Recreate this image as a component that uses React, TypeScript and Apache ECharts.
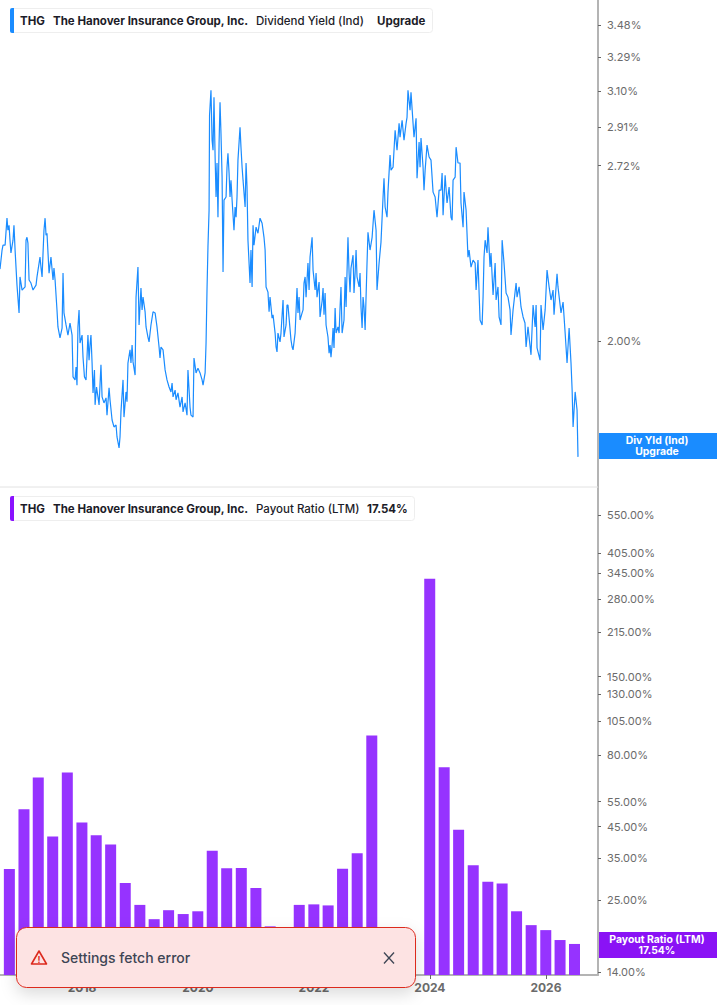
import { useEffect, useRef } from 'react';
import * as echarts from 'echarts';

// day offsets below are counted from this date
const startDate = Date.UTC(2016, 7, 2);
const dayMs = 86400000;
const axisMax = startDate + 3767 * dayMs;

const yearTicks = ['2018-01-01', '2020-01-01', '2022-01-01', '2024-01-01', '2026-01-01'];
const yieldTicks = [3.48, 3.29, 3.10, 2.91, 2.72, 2.00];
const payoutTicks = [550, 405, 345, 280, 215, 150, 130, 105, 80, 55, 45, 35, 25, 14];

// [days since startDate, dividend yield %]
const yield2016: [number, number][] = [
    [0, 2.269], [13, 2.346], [19, 2.366], [32, 2.366], [44, 2.481], [50, 2.429], [57, 2.45], [63, 2.387], [69, 2.334],
    [82, 2.387], [88, 2.45], [95, 2.346], [107, 2.206], [120, 2.101], [126, 2.238], [139, 2.187],
];
const yield2017: [number, number][] = [
    [158, 2.199], [164, 2.387], [170, 2.399], [176, 2.375], [183, 2.226], [195, 2.214], [208, 2.187], [227, 2.206], [233, 2.238],
    [252, 2.317], [258, 2.277], [265, 2.238], [277, 2.429], [284, 2.481], [290, 2.408], [296, 2.416], [309, 2.253], [321, 2.317],
    [334, 2.226], [340, 2.273], [347, 2.226], [359, 2.112], [365, 2.05], [378, 2.011], [391, 2.046], [397, 2.253], [403, 2.101],
    [416, 2.057], [428, 2.021], [441, 2.064], [454, 2.021], [460, 1.878], [473, 1.868], [479, 1.911], [485, 1.851], [491, 2.05],
    [498, 2.112], [504, 1.993],
];
const yield2018: [number, number][] = [
    [517, 2.021], [523, 1.944], [532, 1.878], [542, 1.868], [554, 2.021], [561, 1.934], [567, 1.986], [573, 2.021], [580, 1.924],
    [586, 1.826], [595, 1.901], [599, 1.788], [608, 1.845], [617, 1.813], [624, 1.788], [636, 1.918], [643, 1.813], [655, 1.794],
    [668, 1.81], [674, 1.756], [687, 1.842], [693, 1.804], [706, 1.741], [718, 1.72], [731, 1.726], [737, 1.69], [750, 1.658],
    [756, 1.69], [762, 1.766], [775, 1.868], [781, 1.75], [794, 1.829], [800, 1.798], [806, 1.924], [819, 1.969], [825, 1.924],
    [832, 1.986], [838, 1.928], [851, 1.884], [857, 2.16], [869, 2.277],
];
const yield2019: [number, number][] = [
    [876, 2.057], [888, 2.195], [895, 2.112], [901, 2.16], [914, 2.105], [920, 2.05], [932, 2.014], [939, 1.997], [951, 2.057],
    [964, 2.105], [977, 2.101], [989, 2.05], [1002, 1.979], [1008, 1.941], [1014, 1.979], [1027, 1.969], [1040, 1.901], [1052, 1.868],
    [1065, 1.845], [1077, 1.829], [1084, 1.858], [1090, 1.813], [1103, 1.835], [1109, 1.804], [1121, 1.826], [1134, 1.781],
    [1147, 1.813], [1153, 1.766], [1166, 1.794], [1178, 1.756], [1184, 1.901], [1197, 1.781], [1203, 1.756], [1216, 1.75], [1222, 1.941],
];
const yield2020: [number, number][] = [
    [1235, 1.891], [1247, 1.907], [1260, 1.891], [1273, 1.868], [1279, 1.851], [1292, 1.891], [1298, 1.993], [1304, 2.187], [1310, 2.358],
    [1317, 2.516], [1320, 2.972], [1329, 3.105], [1336, 2.845], [1342, 2.795], [1348, 3.067], [1355, 2.762], [1361, 2.575], [1367, 2.733],
    [1373, 2.485], [1380, 2.83], [1386, 3.04], [1392, 2.88], [1399, 2.666], [1405, 2.257], [1411, 2.561], [1424, 2.575], [1430, 2.713],
    [1436, 2.78], [1443, 2.685], [1449, 2.575], [1455, 2.652], [1462, 2.561], [1474, 2.429], [1481, 2.53], [1487, 2.485], [1493, 2.575],
    [1499, 2.747], [1512, 2.91], [1518, 2.81], [1525, 2.713], [1531, 2.652], [1544, 2.53], [1550, 2.733], [1556, 2.62], [1562, 2.387],
    [1575, 2.214], [1581, 2.346], [1588, 2.199],
];
const yield2021: [number, number][] = [
    [1594, 2.45], [1600, 2.366], [1613, 2.442], [1625, 2.416], [1638, 2.481], [1651, 2.459], [1663, 2.399], [1670, 2.346], [1676, 2.199],
    [1688, 2.179], [1695, 2.105], [1701, 2.16], [1714, 2.082], [1720, 2.094], [1733, 2.028], [1739, 1.979], [1745, 1.962], [1751, 2.028],
    [1764, 1.997], [1770, 2.028], [1783, 2.149], [1789, 2.014], [1802, 2.057], [1808, 2.13], [1814, 2.13], [1821, 2.082], [1833, 2.004],
    [1840, 1.979], [1846, 1.969], [1859, 2.028], [1871, 2.195], [1877, 2.101], [1884, 2.16], [1890, 2.075], [1903, 2.101], [1909, 2.112],
    [1915, 2.214], [1922, 2.238], [1928, 2.16], [1934, 2.226], [1940, 2.293], [1947, 2.187],
];
const yield2022: [number, number][] = [
    [1953, 2.317], [1966, 2.399], [1972, 2.265], [1985, 2.187], [1991, 2.253], [1997, 2.16], [2010, 2.218], [2016, 2.086], [2029, 2.145],
    [2035, 2.195], [2041, 2.094], [2048, 2.176], [2054, 2.057], [2066, 2.014], [2073, 1.958], [2079, 1.986], [2085, 1.944], [2092, 1.986],
    [2098, 2.046], [2104, 1.976], [2111, 2.119], [2117, 2.028], [2129, 2.05], [2136, 2.028], [2142, 2.119], [2148, 2.199], [2155, 2.028],
    [2167, 2.075], [2174, 2.238], [2180, 2.123], [2192, 2.399], [2199, 2.253], [2205, 2.179], [2211, 2.273], [2224, 2.325], [2230, 2.176],
    [2237, 2.253], [2243, 2.346], [2249, 2.238], [2262, 2.199], [2268, 2.253], [2274, 2.123], [2281, 2.046], [2287, 2.16], [2293, 2.123],
    [2300, 2.039],
];
const yield2023: [number, number][] = [
    [2312, 2.293], [2318, 2.42], [2331, 2.346], [2344, 2.399], [2356, 2.516], [2369, 2.429], [2375, 2.187], [2388, 2.293], [2400, 2.379],
    [2413, 2.575], [2419, 2.661], [2426, 2.53], [2438, 2.485], [2444, 2.597], [2457, 2.771], [2463, 2.699], [2476, 2.713], [2489, 2.895],
    [2501, 2.795], [2514, 2.93], [2520, 2.86], [2533, 2.946], [2545, 2.845], [2558, 2.93], [2564, 2.961], [2570, 3.105], [2583, 2.998],
    [2589, 3.094], [2602, 2.93], [2608, 2.86], [2621, 2.956], [2627, 2.661], [2640, 2.835], [2646, 2.713], [2652, 2.855], [2665, 2.713],
    [2671, 2.606],
];
const yield2024: [number, number][] = [
    [2678, 2.699], [2690, 2.82], [2703, 2.762], [2715, 2.747], [2728, 2.597], [2741, 2.575], [2753, 2.485], [2766, 2.606], [2778, 2.606],
    [2785, 2.685], [2791, 2.494], [2804, 2.675], [2816, 2.548], [2829, 2.62], [2841, 2.485], [2848, 2.472], [2854, 2.652], [2867, 2.666],
    [2873, 2.81], [2885, 2.733], [2898, 2.733], [2904, 2.548], [2917, 2.442], [2923, 2.597], [2936, 2.516], [2948, 2.317], [2955, 2.346],
    [2967, 2.277], [2980, 2.305], [2993, 2.293], [2999, 2.187], [3011, 2.305], [3018, 2.176], [3024, 2.075],
];
const yield2025: [number, number][] = [
    [3037, 2.057], [3043, 2.16], [3049, 2.317], [3056, 2.387], [3068, 2.334], [3074, 2.442], [3087, 2.277], [3093, 2.334], [3106, 2.168],
    [3119, 2.293], [3125, 2.149], [3137, 2.199], [3144, 2.086], [3156, 2.057], [3163, 2.387], [3175, 2.293], [3188, 2.176], [3200, 2.16],
    [3213, 2.112], [3219, 2.021], [3232, 2.112], [3251, 2.214], [3257, 2.16], [3270, 2.199], [3282, 2.123], [3295, 2.086], [3307, 2.064],
    [3314, 1.979], [3326, 2.05], [3345, 1.952], [3358, 2.13], [3371, 2.05], [3377, 2.13], [3383, 1.976], [3402, 1.934], [3408, 2.13],
    [3421, 2.039], [3434, 2.112],
];
const yield2026: [number, number][] = [
    [3446, 2.265], [3459, 2.199], [3471, 2.149], [3484, 2.187], [3490, 2.094], [3509, 2.25], [3515, 2.199], [3534, 2.101], [3547, 2.141],
    [3560, 2.028], [3572, 1.924], [3585, 2.046], [3597, 1.924], [3604, 1.835], [3610, 1.72], [3623, 1.829], [3635, 1.772], [3641, 1.632],
];

const payoutDates = [
    '2016-09-30', '2016-12-31', '2017-03-31', '2017-06-30', '2017-09-30', '2017-12-31', '2018-03-31', '2018-06-30',
    '2018-09-30', '2018-12-31', '2019-03-31', '2019-06-30', '2019-09-30', '2019-12-31', '2020-03-31', '2020-06-30',
    '2020-09-30', '2020-12-31', '2021-03-31', '2021-06-30', '2021-09-30', '2021-12-31', '2022-03-31', '2022-06-30',
    '2022-09-30', '2022-12-31', '2023-12-31', '2024-03-31', '2024-06-30', '2024-09-30', '2024-12-31', '2025-03-31',
    '2025-06-30', '2025-09-30', '2025-12-31', '2026-03-31', '2026-06-30',
];
const payoutValues = [
    32.0, 51.7, 66.8, 41.6, 69.5, 46.5, 42.0, 39.0,
    28.6, 24.0, 21.4, 23.0, 22.3, 22.8, 37.1, 32.2,
    32.3, 27.5, 20.2, 17.0, 24.0, 24.1, 23.9, 32.1,
    36.3, 93.5, 329, 72.4, 43.9, 33.0, 28.9, 28.5,
    22.8, 20.4, 19.6, 18.1, 17.54,
];

const BLUE = '#1a8cff';
const PURPLE = '#9633ff';
const FONT = 'Inter, "Noto Sans", sans-serif';

const yieldData = [
    ...yield2016, ...yield2017, ...yield2018, ...yield2019, ...yield2020, ...yield2021,
    ...yield2022, ...yield2023, ...yield2024, ...yield2025, ...yield2026,
].map(([d, v]) => [startDate + d * dayMs, v]);

const payoutData = payoutDates.map((d, i) => [Date.parse(d), payoutValues[i]]);

function label(x: number, y: number, text: string, weight: number | string, color = '#1c1c28', size = 11.5, align = 'left') {
    return {
        type: 'text',
        x,
        y,
        silent: true,
        style: { text, fill: color, font: `${weight} ${size}px ${FONT}`, textAlign: align, textVerticalAlign: 'middle' },
    };
}

function header(top: number, width: number, color: string, metric: string, value: string, valueX: number) {
    return [
        {
            type: 'rect',
            shape: { x: 10.5, y: top + 0.5, width, height: 24, r: 3 },
            style: { fill: '#fff', stroke: '#eeeeee', lineWidth: 1 },
        },
        { type: 'rect', shape: { x: 10, y: top, width: 4, height: 25, r: [2, 0, 0, 2] }, style: { fill: color } },
        label(20, top + 13, 'THG', 700),
        label(53, top + 13, 'The Hanover Insurance Group, Inc.', 700),
        label(256, top + 13, metric, 500),
        label(valueX, top + 13, value, 700),
    ];
}

function axisTag(top: number, color: string, first: string, second: string) {
    return [
        { type: 'rect', shape: { x: 599, y: top, width: 118, height: 26 }, style: { fill: color } },
        label(657, top + 7, first, 700, '#fff', 10.4, 'center'),
        label(657, top + 18.5, second, 700, '#fff', 10.4, 'center'),
    ];
}

const toast = [
    {
        type: 'rect',
        shape: { x: 16.5, y: 927.5, width: 399, height: 60, r: 10 },
        style: {
            fill: '#fde3e3',
            stroke: '#dc2a1e',
            lineWidth: 1,
            shadowBlur: 16,
            shadowOffsetY: 6,
            shadowColor: 'rgba(0,0,0,0.14)',
        },
    },
    {
        type: 'polygon',
        shape: { points: [[39, 951], [46.5, 964], [31.5, 964]] },
        style: { fill: 'none', stroke: '#dc2a1e', lineWidth: 1.6, lineJoin: 'round' },
    },
    label(39, 959.5, '!', 700, '#dc2a1e', 9, 'center'),
    label(61, 957, 'Settings fetch error', 500, '#3d4554', 14),
    { type: 'line', shape: { x1: 384, y1: 952.5, x2: 394, y2: 963.5 }, style: { stroke: '#3d4554', lineWidth: 1.3 } },
    { type: 'line', shape: { x1: 394, y1: 952.5, x2: 384, y2: 963.5 }, style: { stroke: '#3d4554', lineWidth: 1.3 } },
];

const overlays = [
    { type: 'line', shape: { x1: 0, y1: 487, x2: 598, y2: 487 }, style: { stroke: '#e2e2e2', lineWidth: 1 } },
    ...header(8, 422, BLUE, 'Dividend Yield (Ind)', 'Upgrade', 377),
    ...header(496, 404, '#8a12ff', 'Payout Ratio (LTM)', '17.54%', 367),
    ...axisTag(433, BLUE, 'Div Yld (Ind)', 'Upgrade'),
    ...axisTag(932, '#8a12f5', 'Payout Ratio (LTM)', '17.54%'),
    ...toast,
];

export default function App() {
    const chartRef = useRef<HTMLDivElement>(null);

    useEffect(() => {
        if (!chartRef.current) return;
        document.body.style.margin = '0';

        const chart = echarts.init(chartRef.current, undefined, { renderer: 'svg' });

        const yAxisCommon = {
            type: 'log' as const,
            position: 'right' as const,
            logBase: Math.E,
            splitLine: { show: false },
            minorTick: { show: false },
            axisLine: { show: true, onZero: false, lineStyle: { color: '#b4b4b4', width: 2 } },
            axisTick: { show: true, length: 3, lineStyle: { color: '#666', width: 1 } },
        };
        const tickLabel = { show: true, color: '#6b6b6b', fontFamily: FONT, fontSize: 11, margin: 9, showMinLabel: true, showMaxLabel: true };

        chart.setOption({
            animation: false,
            backgroundColor: '#fff',
            grid: [
                { left: 0, right: 119, top: 0, height: 487 },
                { left: 0, right: 119, top: 488, height: 487 },
            ],
            xAxis: [
                { type: 'value', gridIndex: 0, min: startDate, max: axisMax, show: false, splitLine: { show: false } },
                {
                    // plain value axis holding timestamps, the ticks are only the even years
                    type: 'value',
                    gridIndex: 1,
                    min: startDate,
                    max: axisMax,
                    splitLine: { show: false },
                    axisLine: { show: true, lineStyle: { color: '#b4b4b4', width: 2 } },
                    axisTick: { show: true, length: 4, lineStyle: { color: '#666' }, customValues: yearTicks.map((t) => Date.parse(t)) },
                    axisLabel: {
                        color: '#6b6b6b',
                        fontFamily: FONT,
                        fontSize: 12,
                        fontWeight: 700,
                        margin: 6,
                        customValues: yearTicks.map((t) => Date.parse(t)),
                        formatter: (v: number) => String(new Date(v).getUTCFullYear()),
                    },
                },
            ],
            yAxis: [
                {
                    ...yAxisCommon,
                    gridIndex: 0,
                    min: 1.548,
                    max: 3.638,
                    axisTick: { ...yAxisCommon.axisTick, customValues: yieldTicks },
                    axisLabel: { ...tickLabel, customValues: yieldTicks, formatter: (v: number) => `${v.toFixed(2)}%` },
                },
                {
                    ...yAxisCommon,
                    gridIndex: 1,
                    min: 13.67,
                    max: 682,
                    axisTick: { ...yAxisCommon.axisTick, customValues: payoutTicks },
                    axisLabel: { ...tickLabel, customValues: payoutTicks, formatter: (v: number) => `${v.toFixed(2)}%` },
                },
            ],
            series: [
                {
                    type: 'line',
                    name: 'Dividend Yield (Ind)',
                    xAxisIndex: 0,
                    yAxisIndex: 0,
                    data: yieldData,
                    showSymbol: false,
                    lineStyle: { color: BLUE, width: 1.2 },
                    silent: true,
                },
                {
                    type: 'bar',
                    name: 'Payout Ratio (LTM)',
                    xAxisIndex: 1,
                    yAxisIndex: 1,
                    data: payoutData,
                    barWidth: 11,
                    itemStyle: { color: PURPLE },
                    silent: true,
                },
            ],
            // z has to sit on each element, a group's z does not reach its children
            graphic: overlays.map((el) => ({ ...el, z: 100 })),
        });

        return () => {
            chart.dispose();
        };
    }, []);

    return <div ref={chartRef} style={{ width: 717, height: 1005 }} />;
}
